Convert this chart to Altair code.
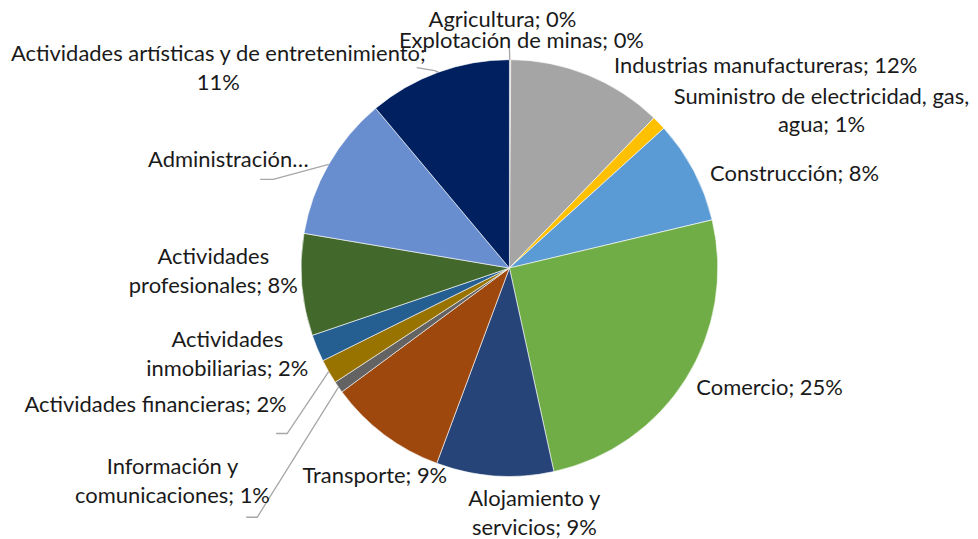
import math
import altair as alt
import pandas as pd

# ---------------- data ----------------
sectors = [
    "Agricultura",
    "Explotación de minas",
    "Industrias manufactureras",
    "Suministro de electricidad, gas, agua",
    "Construcción",
    "Comercio",
    "Alojamiento y servicios",
    "Transporte",
    "Información y comunicaciones",
    "Actividades financieras",
    "Actividades inmobiliarias",
    "Actividades profesionales",
    "Administración",
    "Actividades artísticas y de entretenimiento",
]
shares = [0.05, 0.05, 12.1, 1.1, 8.0, 25.3, 9.1, 9.2, 0.9, 1.9, 2.1, 7.9, 11.25, 11.1]
label_lines = [
    ["Agricultura; 0%"],
    ["Explotación de minas; 0%"],
    ["Industrias manufactureras; 12%"],
    ["Suministro de electricidad, gas,", "agua; 1%"],
    ["Construcción; 8%"],
    ["Comercio; 25%"],
    ["Alojamiento y", "servicios; 9%"],
    ["Transporte; 9%"],
    ["Información y", "comunicaciones; 1%"],
    ["Actividades financieras; 2%"],
    ["Actividades", "inmobiliarias; 2%"],
    ["Actividades", "profesionales; 8%"],
    ["Administración…"],
    ["Actividades artísticas y de entretenimiento;", "11%"],
]

# ---------------- styles / layout ----------------
colors = ["#4472C4", "#ED7D31", "#A5A5A5", "#FFC000", "#5B9BD5", "#70AD47",
          "#264478", "#9E480E", "#636363", "#997300", "#255E91", "#43682B",
          "#698ED0", "#002060"]
CX, CY, R = 503, 260, 209          # pie centre / radius (pixels in plot area)
FONT = "Lato"
FONT_SIZE = 22
LINE_H = 29
# label anchor (centre x, first-line y) in plot-area pixels
label_anchor = [(496, 11), (515, 32), (760, 57), (816, 88), (789, 166), (764, 380),
                (528, 492), (368, 469), (165, 460), (148, 397), (220, 332),
                (206, 249), (221, 152), (211, 45)]
# leader lines: elbow points (label side) for sectors that have them
leader_pts = {
    0: [(503, 39)],
    13: [(410, 59), (428, 62)],
    12: [(253, 171), (266, 171)],
    9: [(269, 426), (280, 426)],
    8: [(239, 510), (250, 510)],
}

# ---------------- tables ----------------
total = sum(shares)
pie = pd.DataFrame({"sector": sectors, "share": shares, "idx": list(range(len(sectors)))})

rows = []
for i, lines in enumerate(label_lines):
    x0, y0 = label_anchor[i]
    for j, t in enumerate(lines):
        rows.append({"text": t, "x": x0, "y": y0 + j * LINE_H})
labels = pd.DataFrame(rows)

cum = 0.0
mids = []
for s in shares:
    mids.append((cum + s / 2) / total * 2 * math.pi)
    cum += s
lrows = []
for i, pts in leader_pts.items():
    a = mids[i]
    edge = (CX + R * math.sin(a), CY - R * math.cos(a))
    seq = pts + [edge]
    for k, (px, py) in enumerate(seq):
        lrows.append({"g": i, "o": k, "x": px, "y": py})
leaders = pd.DataFrame(lrows)

# ---------------- chart ----------------
arcs = alt.Chart(pie).mark_arc(outerRadius=R, stroke="#ffffff", strokeWidth=0.6).encode(
    theta=alt.Theta("share:Q", stack=True),
    order=alt.Order("idx:Q"),
    color=alt.Color("sector:N", scale=alt.Scale(domain=sectors, range=colors), legend=None),
    x=alt.value(CX),
    y=alt.value(CY),
)

lines = alt.Chart(leaders).mark_line(color="#A6A6A6", strokeWidth=1.3).encode(
    x=alt.X("x:Q", scale=None, axis=None),
    y=alt.Y("y:Q", scale=None, axis=None),
    detail="g:N",
    order="o:Q",
)

texts = alt.Chart(labels).mark_text(
    font=FONT, fontSize=FONT_SIZE, color="#1a1a1a", align="center", baseline="middle"
).encode(
    x=alt.X("x:Q", scale=None, axis=None),
    y=alt.Y("y:Q", scale=None, axis=None),
    text="text:N",
)

chart = alt.layer(arcs, lines, texts).properties(
    width=960, height=522, padding=0
).configure_view(stroke=None)

chart.save("out.html", embed_options={"renderer": "svg", "actions": False})
